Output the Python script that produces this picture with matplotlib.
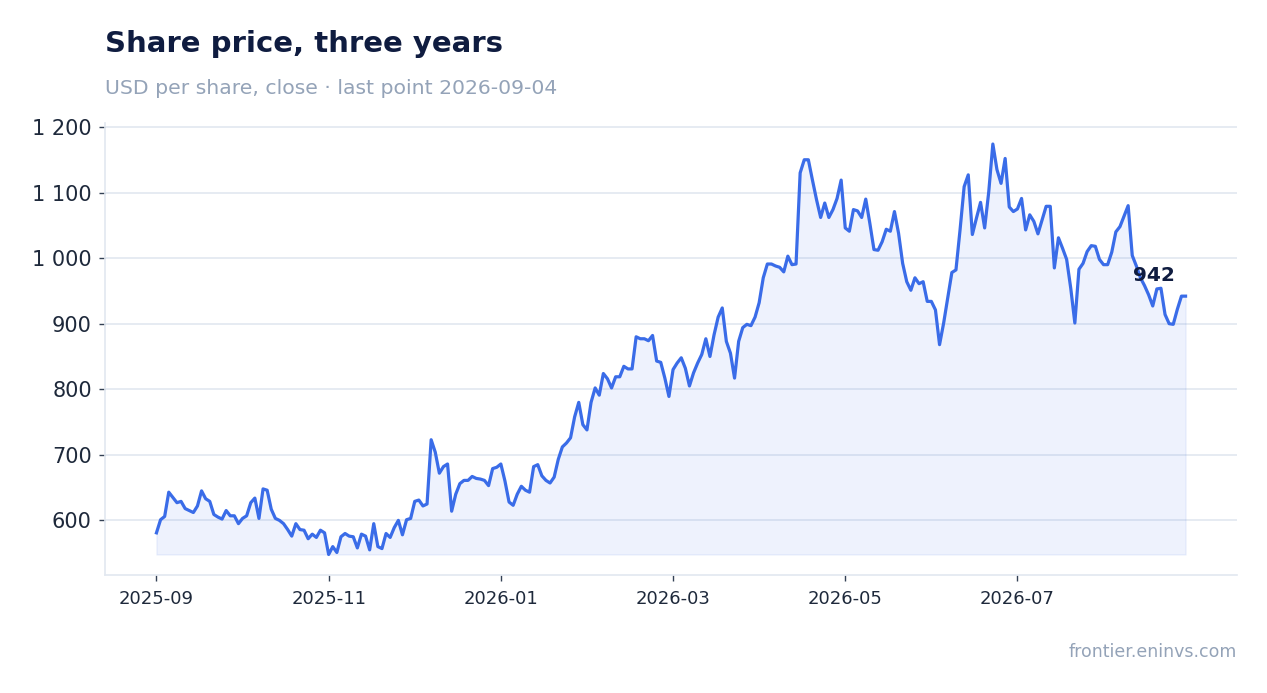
import numpy as np
import pandas as pd
import matplotlib
matplotlib.use("Agg")
import matplotlib.pyplot as plt
from matplotlib.ticker import FuncFormatter

# ---------------- data ----------------
title = "Share price, three years"
subtitle = "USD per share, close · last point 2026-09-04"
source = "frontier.eninvs.com"
last_date = "2026-09-04"

prices = [
    581, 601, 606, 643, 635, 627, 629, 618, 615, 612,
    622, 645, 633, 629, 609, 605, 602, 615, 607, 607,
    595, 603, 607, 627, 634, 603, 648, 646, 617, 603,
    600, 595, 586, 576, 595, 586, 585, 572, 579, 574,
    585, 581, 548, 560, 551, 575, 580, 576, 575, 558,
    579, 576, 555, 595, 560, 557, 580, 574, 589, 600,
    578, 601, 603, 629, 631, 622, 625, 723, 704, 672,
    682, 686, 614, 640, 656, 661, 661, 667, 664, 663,
    661, 653, 679, 681, 686, 660, 628, 623, 640, 652,
    646, 643, 682, 685, 668, 661, 657, 666, 693, 712,
    718, 726, 758, 780, 746, 738, 780, 802, 791, 824,
    816, 802, 819, 819, 835, 831, 831, 880, 877, 877,
    874, 882, 843, 841, 817, 789, 830, 840, 848, 832,
    805, 825, 840, 853, 877, 850, 883, 910, 924, 873,
    855, 817, 873, 894, 899, 897, 910, 932, 970, 991,
    991, 988, 986, 979, 1003, 990, 991, 1130, 1150, 1150,
    1119, 1089, 1062, 1084, 1062, 1074, 1091, 1119, 1046, 1041,
    1074, 1072, 1062, 1090, 1053, 1013, 1012, 1025, 1044, 1041,
    1071, 1038, 992, 964, 951, 970, 961, 964, 934, 934,
    921, 868, 901, 939, 978, 982, 1043, 1109, 1127, 1036,
    1061, 1085, 1046, 1101, 1174, 1135, 1114, 1152, 1078, 1071,
    1075, 1091, 1043, 1066, 1056, 1037, 1058, 1079, 1079, 985,
    1031, 1015, 998, 954, 901, 983, 992, 1010, 1019, 1018,
    998, 990, 990, 1009, 1040, 1048, 1064, 1080, 1004, 988,
    970, 958, 944, 927, 953, 954, 914, 900, 899, 922,
    942, 942,
]
dates = pd.bdate_range(end=last_date, periods=len(prices))
tick_every = 42
y_ticks = [600, 700, 800, 900, 1000, 1100, 1200]

# ---------------- style ----------------
LINE = "#3a6ce8"
NAVY = "#0f1c40"
GRAY = "#94a3b8"
GRID = "#e2e8f0"
TEXT = "#1e293b"

W, H = 1267, 693
fig = plt.figure(figsize=(W / 100, H / 100), dpi=100)
ax = fig.add_axes([105 / W, (H - 575) / H, 1132 / W, 451.5 / H])

x = np.arange(len(prices))
y = np.array(prices, dtype=float)

ax.fill_between(x, y, y.min(), color=LINE, alpha=0.085, linewidth=1.0)
ax.plot(x, y, color=LINE, lw=2.3, solid_joinstyle="round", zorder=3)

ax.margins(x=0.05, y=0.05)
ax.set_xticks(x[::tick_every])
ax.set_xticklabels([d.strftime("%Y-%m") for d in dates[::tick_every]])
ax.set_yticks(y_ticks)
ax.yaxis.set_major_formatter(FuncFormatter(lambda v, p: f"{v:,.0f}".replace(",", " ")))

ax.grid(axis="y", color=GRID, lw=1.2)
ax.set_axisbelow(True)
for s in ["top", "right"]:
    ax.spines[s].set_visible(False)
for s in ["left", "bottom"]:
    ax.spines[s].set_color(GRID)
    ax.spines[s].set_linewidth(1.2)

ax.tick_params(axis="y", labelsize=15, colors="#334155", labelcolor=TEXT,
               length=4, width=1.0, pad=5.5)
ax.tick_params(axis="x", labelsize=13, colors="#334155", labelcolor=TEXT,
               length=4, width=1.0, pad=7)

ax.annotate(f"{prices[-1]:.0f}", xy=(x[-1], y[-1]), xytext=(-23, 15),
            textcoords="offset points", ha="center", va="center",
            fontsize=14.5, fontweight="bold", color=NAVY, zorder=5)

fig.text(105 / W, 1 - 44 / H, title, fontsize=21, fontweight="bold",
         color=NAVY, ha="left", va="center")
fig.text(105 / W, 1 - 88 / H, subtitle, fontsize=14.7, color=GRAY,
         ha="left", va="center")
fig.text(1237 / W, 1 - 652 / H, source, fontsize=12.5, color=GRAY,
         ha="right", va="center")

fig.savefig("out.png", dpi=100)
